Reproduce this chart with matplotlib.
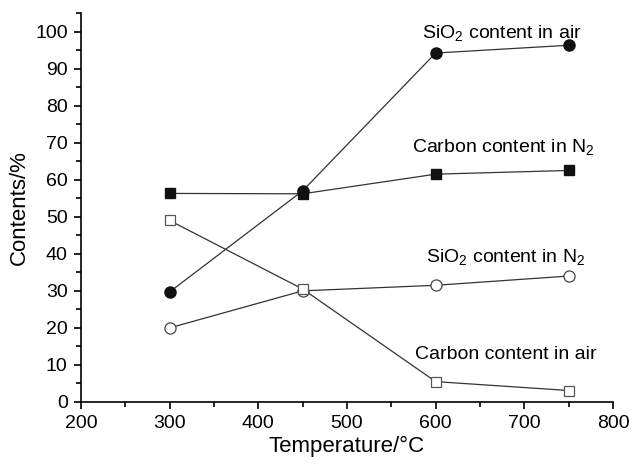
import numpy as np
import matplotlib
matplotlib.use('Agg')
import matplotlib.pyplot as plt
from matplotlib.ticker import MultipleLocator

plt.rcParams['font.family'] = ['Liberation Sans', 'DejaVu Sans']
plt.rcParams['mathtext.fontset'] = 'custom'
plt.rcParams['mathtext.rm'] = 'Liberation Sans'

# data
temp = [300, 450, 600, 750]
sio2_air = [29.7, 57.0, 94.2, 96.3]
carbon_n2 = [56.3, 56.2, 61.5, 62.5]
sio2_n2 = [20.0, 30.0, 31.5, 34.0]
carbon_air = [49.0, 30.5, 5.5, 3.1]

fig = plt.figure(figsize=(6.32, 4.65), dpi=100)
ax = fig.add_axes([0.128, 0.1355, 0.842, 0.8365])

lc = '#333333'
ax.plot(temp, sio2_air, '-o', color=lc, lw=0.9, ms=8, mfc='#111111', mec='#111111', zorder=3)
ax.plot(temp, carbon_n2, '-s', color=lc, lw=0.9, ms=7.5, mfc='#111111', mec='#111111', zorder=3)
ax.plot(temp, sio2_n2, '-o', color=lc, lw=0.9, ms=8, mfc='white', mec='#444444', mew=0.9, zorder=4)
ax.plot(temp, carbon_air, '-s', color=lc, lw=0.9, ms=7.5, mfc='white', mec='#555555', mew=0.9, zorder=4)

fs = 14
ax.text(675, 99.5, r'SiO$_2$ content in air', ha='center', va='center', fontsize=fs)
ax.text(676, 68.7, r'Carbon content in N$_2$', ha='center', va='center', fontsize=fs)
ax.text(679, 39.0, r'SiO$_2$ content in N$_2$', ha='center', va='center', fontsize=fs)
ax.text(679, 12.9, 'Carbon content in air', ha='center', va='center', fontsize=fs)

ax.set_xlim(200, 800)
ax.set_ylim(0, 105)
ax.xaxis.set_major_locator(MultipleLocator(100))
ax.xaxis.set_minor_locator(MultipleLocator(50))
ax.yaxis.set_major_locator(MultipleLocator(10))
ax.yaxis.set_minor_locator(MultipleLocator(5))
ax.spines['top'].set_visible(False)
ax.spines['right'].set_visible(False)
ax.spines['left'].set_linewidth(1.2)
ax.spines['bottom'].set_linewidth(1.2)
ax.tick_params(which='major', direction='out', length=5, width=1.2, labelsize=fs, pad=4.5)
ax.tick_params(which='minor', direction='out', length=3.5, width=1.2)

ax.set_xlabel('Temperature/°C', fontsize=16, labelpad=3)
ax.set_ylabel('Contents/%', fontsize=16, labelpad=4)

fig.savefig('out.png', dpi=100)
